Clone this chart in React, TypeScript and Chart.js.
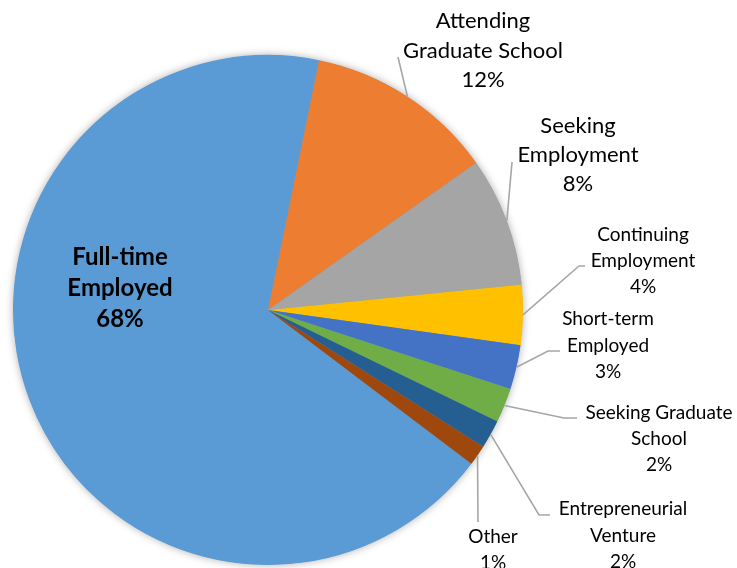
import React, { useEffect, useRef } from "react";
import { Chart, registerables } from "chart.js";

Chart.register(...registerables);

// ---- Data ----
const categories = [
  "Full-time Employed",
  "Attending Graduate School",
  "Seeking Employment",
  "Continuing Employment",
  "Short-term Employed",
  "Seeking Graduate School",
  "Entrepreneurial Venture",
  "Other",
];
const labelLines: string[][] = [
  ["Full-time", "Employed"],
  ["Attending", "Graduate School"],
  ["Seeking", "Employment"],
  ["Continuing", "Employment"],
  ["Short-term", "Employed"],
  ["Seeking Graduate", "School"],
  ["Entrepreneurial", "Venture"],
  ["Other"],
];
const values = [67.9, 12.0, 8.2, 3.8, 2.8, 2.2, 1.8, 1.3];
const colors = [
  "#5B9BD5",
  "#ED7D31",
  "#A5A5A5",
  "#FFC000",
  "#4472C4",
  "#70AD47",
  "#255E91",
  "#9E480E",
];

// ---- Label layout (positions of label text & leader elbows) ----
type LabelLayout = {
  leader: number[][];
  cx: number;
  y0: number;
  size: number;
  lh: number;
  bold?: boolean;
};
const labelLayout: LabelLayout[] = [
  { leader: [], cx: 120, y0: 257, size: 24, lh: 31, bold: true },
  { leader: [[398, 57]], cx: 483, y0: 21, size: 22, lh: 29.5 },
  { leader: [[512, 162]], cx: 578, y0: 126, size: 22, lh: 29 },
  { leader: [[579, 266], [585, 266]], cx: 643, y0: 235, size: 19, lh: 26 },
  { leader: [[548, 351], [560, 351]], cx: 608, y0: 319, size: 19, lh: 26.5 },
  { leader: [[564, 418], [577, 418]], cx: 659, y0: 413, size: 19, lh: 26 },
  { leader: [[539, 515], [550, 515]], cx: 623, y0: 509, size: 19, lh: 26.5 },
  { leader: [[478, 522]], cx: 493, y0: 537, size: 19, lh: 26 },
];

const FONT = "Lato, 'Open Sans', sans-serif";

const labelPlugin = {
  id: "pieLabels",
  beforeDatasetsDraw(chart: any) {
    const meta = chart.getDatasetMeta(0);
    const arc = meta.data[0];
    if (!arc) return;
    const { x, y, outerRadius } = arc.getProps(["x", "y", "outerRadius"], true);
    const ctx = chart.ctx;
    ctx.save();
    ctx.shadowColor = "rgba(0,0,0,0.35)";
    ctx.shadowBlur = 9;
    ctx.shadowOffsetX = 0;
    ctx.shadowOffsetY = 0;
    ctx.fillStyle = "#5B9BD5";
    ctx.beginPath();
    ctx.arc(x, y, outerRadius - 0.5, 0, Math.PI * 2);
    ctx.fill();
    ctx.restore();
  },
  afterDatasetsDraw(chart: any) {
    const ctx = chart.ctx;
    const meta = chart.getDatasetMeta(0);
    const total = values.reduce((a, b) => a + b, 0);
    meta.data.forEach((el: any, i: number) => {
      const p = el.getProps(["x", "y", "startAngle", "endAngle", "outerRadius"], true);
      const mid = (p.startAngle + p.endAngle) / 2;
      const sx = p.x + Math.cos(mid) * p.outerRadius;
      const sy = p.y + Math.sin(mid) * p.outerRadius;
      const L = labelLayout[i];
      if (L.leader.length) {
        ctx.save();
        ctx.strokeStyle = "#A6A6A6";
        ctx.lineWidth = 1.6;
        ctx.beginPath();
        ctx.moveTo(sx, sy);
        L.leader.forEach((pt) => ctx.lineTo(pt[0], pt[1]));
        ctx.stroke();
        ctx.restore();
      }
      const lines = [...labelLines[i], `${Math.round((values[i] / total) * 100)}%`];
      ctx.save();
      ctx.fillStyle = "#000000";
      ctx.textAlign = "center";
      ctx.textBaseline = "middle";
      ctx.font = `${L.bold ? "bold " : ""}${L.size}px ${FONT}`;
      lines.forEach((t, k) => ctx.fillText(t, L.cx, L.y0 + k * L.lh));
      ctx.restore();
    });
  },
};

export default function App() {
  const ref = useRef<HTMLCanvasElement | null>(null);
  useEffect(() => {
    if (!ref.current) return;
    const chart = new Chart(ref.current, {
      type: "pie",
      data: {
        labels: categories,
        datasets: [
          {
            data: values,
            backgroundColor: colors,
            borderWidth: 0,
          },
        ],
      },
      options: {
        responsive: false,
        animation: false,
        rotation: 127.1,
        layout: { padding: { left: 13, right: 214, top: 55, bottom: 3 } },
        plugins: {
          legend: { display: false },
          tooltip: { enabled: false },
        },
      },
      plugins: [labelPlugin],
    });
    return () => chart.destroy();
  }, []);
  return (
    <div style={{ position: "absolute", left: 0, top: 0, width: 737, height: 568, background: "#fff" }}>
      <canvas ref={ref} width={737} height={568} style={{ width: 737, height: 568 }} />
    </div>
  );
}
